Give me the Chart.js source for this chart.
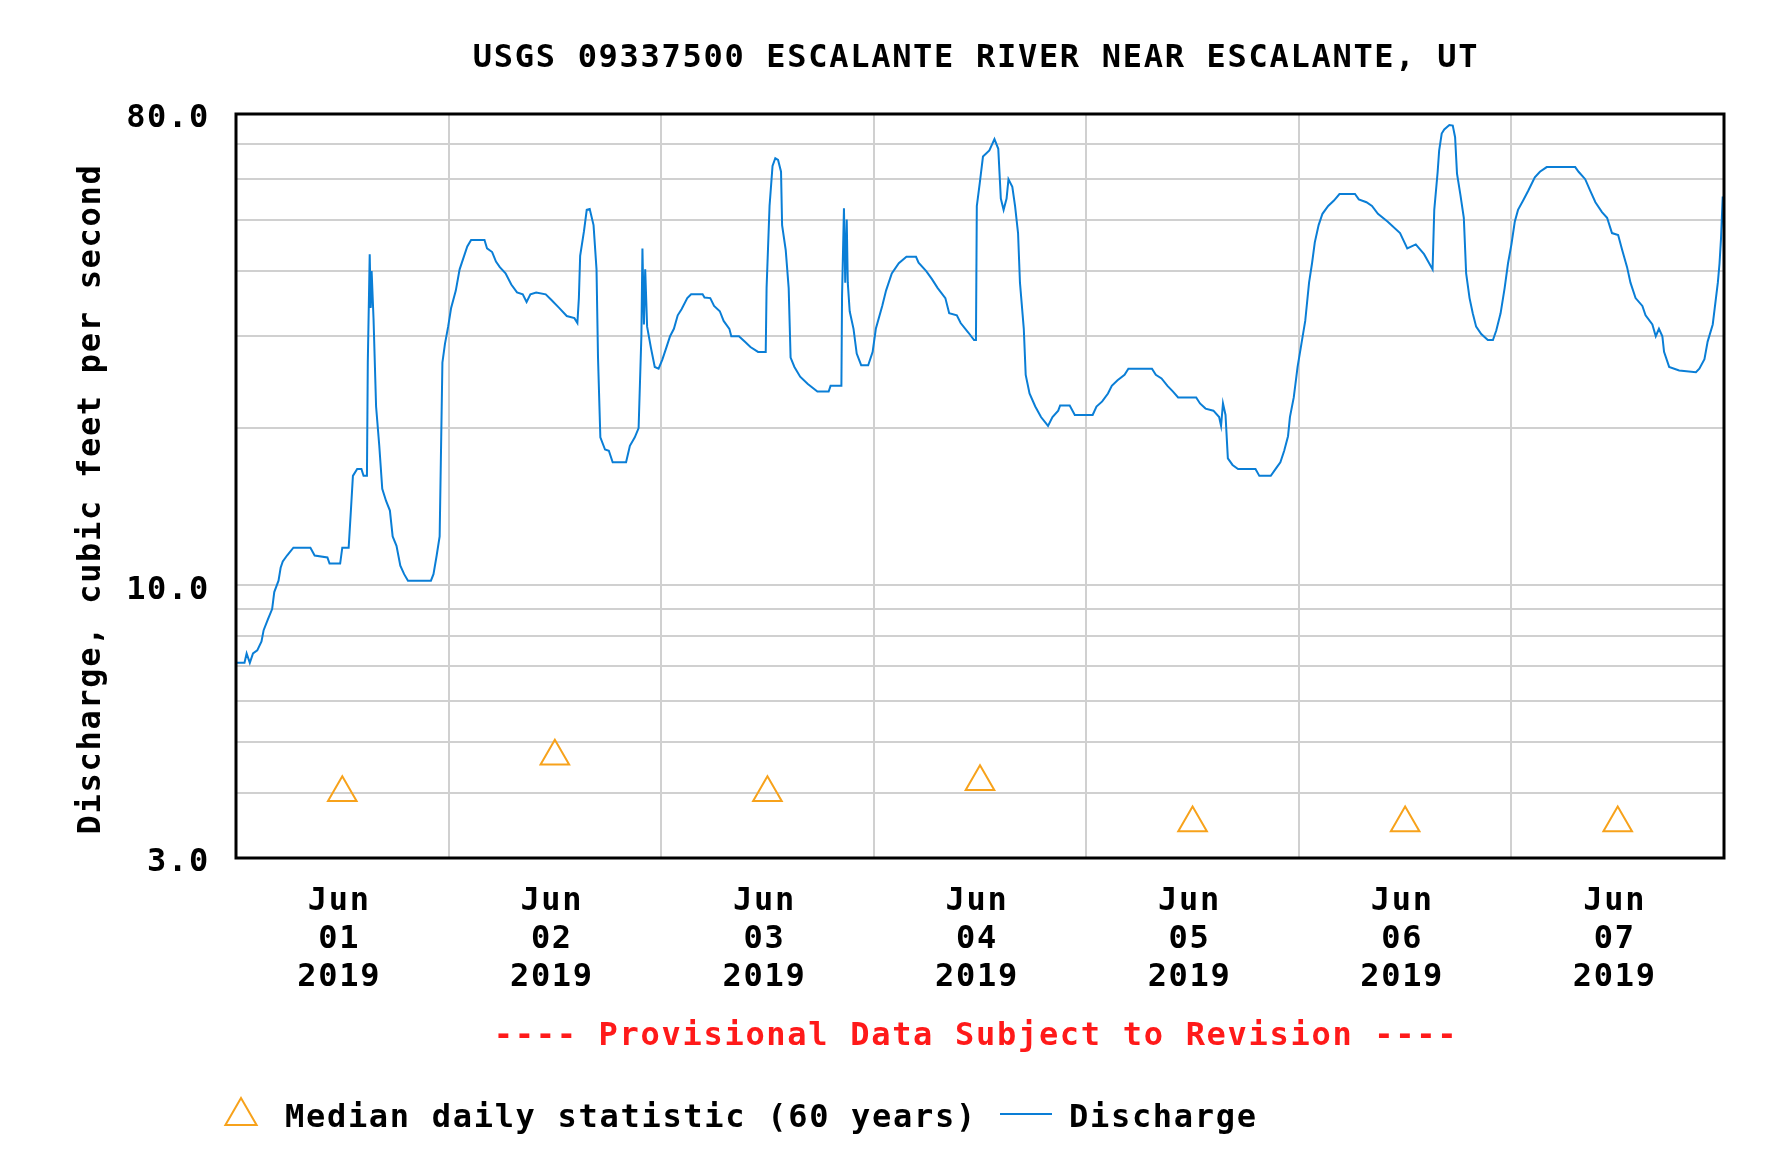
<!DOCTYPE html>
<html>
<head>
<meta charset="utf-8">
<script src="https://cdn.jsdelivr.net/npm/chart.js"></script>
<style>
  html, body { margin: 0; padding: 0; background: #fff; }
  canvas { display: block; }
</style>
</head>
<body>
<canvas id="flowChart" width="1770" height="1166"></canvas>
<script>
// === USGS 09337500 DISCHARGE, JUN 01-07 2019 ===

const TITLE = 'USGS 09337500 ESCALANTE RIVER NEAR ESCALANTE, UT';
const Y_TITLE = 'Discharge, cubic feet per second';
const FOOTER = '---- Provisional Data Subject to Revision ----';
const LEGEND_MEDIAN = 'Median daily statistic (60 years)';
const LEGEND_FLOW = 'Discharge';

// x = days since Jun 01 2019 00:00, y = discharge (cfs)
const flowDays = [
    0.00, 0.04, 0.05, 0.065, 0.08, 0.10, 0.12, 0.13, 0.15, 0.17, 0.18, 0.20, 0.21, 0.22, 0.24, 0.27, 0.35, 0.37, 0.43, 0.44,
    0.49, 0.50, 0.53, 0.54, 0.55, 0.57, 0.59, 0.60, 0.616, 0.62, 0.629, 0.634, 0.638, 0.647, 0.659, 0.674, 0.688, 0.706, 0.724, 0.737,
    0.755, 0.773, 0.791, 0.809, 0.917, 0.929, 0.944, 0.958, 0.971, 0.983, 0.998, 1.012, 1.034, 1.052, 1.070, 1.088, 1.106, 1.169, 1.181, 1.205,
    1.223, 1.241, 1.268, 1.295, 1.322, 1.349, 1.367, 1.385, 1.412, 1.457, 1.484, 1.520, 1.556, 1.592, 1.606, 1.613, 1.619, 1.637, 1.650, 1.664,
    1.682, 1.696, 1.703, 1.714, 1.736, 1.754, 1.772, 1.835, 1.853, 1.876, 1.894, 1.907, 1.912, 1.919, 1.925, 1.934, 1.952, 1.970, 1.988, 2.006,
    2.024, 2.042, 2.060, 2.078, 2.096, 2.123, 2.141, 2.195, 2.204, 2.231, 2.249, 2.276, 2.294, 2.321, 2.330, 2.366, 2.393, 2.420, 2.456, 2.492,
    2.496, 2.510, 2.524, 2.537, 2.550, 2.564, 2.569, 2.586, 2.600, 2.609, 2.627, 2.654, 2.690, 2.735, 2.788, 2.797, 2.848, 2.851, 2.860, 2.866,
    2.873, 2.878, 2.887, 2.905, 2.920, 2.941, 2.974, 2.995, 3.010, 3.040, 3.058, 3.085, 3.118, 3.154, 3.199, 3.211, 3.247, 3.274, 3.301, 3.337,
    3.355, 3.391, 3.409, 3.445, 3.472, 3.481, 3.485, 3.499, 3.514, 3.544, 3.568, 3.586, 3.598, 3.611, 3.625, 3.634, 3.652, 3.665, 3.679, 3.688,
    3.706, 3.715, 3.733, 3.760, 3.787, 3.820, 3.841, 3.868, 3.877, 3.922, 3.946, 4.030, 4.048, 4.075, 4.102, 4.120, 4.147, 4.180, 4.198, 4.309,
    4.327, 4.354, 4.382, 4.408, 4.432, 4.517, 4.535, 4.561, 4.598, 4.625, 4.634, 4.643, 4.655, 4.666, 4.688, 4.714, 4.796, 4.814, 4.868, 4.895,
    4.913, 4.931, 4.949, 4.958, 4.976, 4.994, 5.012, 5.030, 5.048, 5.062, 5.075, 5.093, 5.111, 5.138, 5.165, 5.191, 5.264, 5.282, 5.318, 5.344,
    5.372, 5.417, 5.476, 5.510, 5.550, 5.566, 5.589, 5.613, 5.629, 5.637, 5.653, 5.660, 5.672, 5.684, 5.708, 5.724, 5.735, 5.744, 5.760, 5.776,
    5.787, 5.803, 5.818, 5.834, 5.858, 5.889, 5.913, 5.929, 5.949, 5.968, 5.984, 6.000, 6.016, 6.031, 6.055, 6.079, 6.110, 6.134, 6.166, 6.300,
    6.316, 6.347, 6.371, 6.395, 6.426, 6.450, 6.473, 6.502, 6.521, 6.544, 6.560, 6.584, 6.616, 6.631, 6.663, 6.679, 6.694, 6.710, 6.718, 6.742,
    6.789, 6.868, 6.884, 6.908, 6.923, 6.947, 6.971, 6.979, 6.986, 6.994, 7.000
];
const flowCfs = [
    7.1, 7.1, 7.4, 7.1, 7.4, 7.5, 7.8, 8.2, 8.6, 9.0, 9.7, 10.2, 10.8, 11.1, 11.4, 11.8, 11.8, 11.4, 11.3, 11.0,
    11.0, 11.8, 11.8, 13.8, 16.2, 16.7, 16.7, 16.2, 16.2, 26.7, 43.1, 34.0, 40.0, 32.4, 22.0, 18.5, 15.3, 14.5, 13.9, 12.4,
    11.9, 10.9, 10.5, 10.2, 10.2, 10.5, 11.4, 12.4, 26.7, 29.0, 31.3, 34.0, 36.7, 40.3, 42.4, 44.6, 45.9, 45.9, 44.2, 43.5,
    41.7, 40.7, 39.6, 37.7, 36.4, 36.1, 34.9, 36.1, 36.4, 36.1, 35.2, 34.0, 32.8, 32.5, 31.8, 35.5, 42.8, 47.7, 52.4, 52.6,
    49.0, 40.3, 27.3, 19.2, 18.2, 18.1, 17.2, 17.2, 18.5, 19.2, 20.0, 30.0, 44.2, 31.6, 40.3, 31.3, 28.5, 26.2, 26.0, 27.1,
    28.5, 30.0, 31.0, 32.9, 33.8, 35.5, 36.1, 36.1, 35.6, 35.5, 34.3, 33.5, 32.1, 31.0, 30.0, 30.0, 29.3, 28.6, 28.0, 28.0,
    37.1, 53.3, 63.6, 65.8, 65.3, 62.0, 49.0, 43.9, 37.1, 27.3, 26.2, 25.1, 24.3, 23.5, 23.5, 24.1, 24.1, 35.8, 52.8, 38.0,
    50.2, 38.0, 33.5, 31.0, 27.8, 26.4, 26.4, 28.0, 31.0, 34.3, 36.7, 39.6, 41.4, 42.6, 42.6, 41.5, 40.0, 38.6, 37.1, 35.5,
    33.2, 32.9, 31.8, 30.5, 29.5, 29.5, 53.3, 59.0, 66.3, 68.1, 71.6, 68.6, 55.1, 52.4, 55.1, 60.0, 58.0, 53.3, 47.3, 38.0,
    31.0, 25.3, 23.3, 22.0, 21.0, 20.2, 21.0, 21.6, 22.1, 22.1, 21.2, 21.2, 22.0, 22.5, 23.3, 24.1, 24.7, 25.3, 26.0, 26.0,
    25.3, 24.9, 24.1, 23.5, 22.9, 22.9, 22.3, 21.8, 21.6, 21.0, 20.2, 22.3, 21.2, 17.5, 17.0, 16.7, 16.7, 16.2, 16.2, 16.8,
    17.2, 18.1, 19.3, 21.0, 22.9, 26.2, 29.0, 32.1, 38.0, 41.4, 45.4, 49.0, 51.5, 53.3, 54.6, 56.2, 56.2, 54.9, 54.2, 53.3,
    51.5, 49.8, 47.3, 44.2, 45.0, 44.2, 43.1, 41.4, 40.3, 52.4, 62.0, 68.1, 73.4, 74.7, 76.2, 76.0, 72.2, 61.5, 56.0, 50.6,
    39.6, 35.5, 33.2, 31.3, 30.3, 29.5, 29.5, 30.8, 33.2, 37.1, 41.4, 45.0, 49.8, 52.4, 54.6, 57.0, 60.5, 62.0, 63.3, 63.3,
    62.0, 60.0, 57.0, 54.2, 51.9, 50.6, 47.3, 46.9, 43.9, 40.7, 38.0, 35.5, 34.3, 32.9, 31.6, 30.0, 31.0, 30.0, 28.0, 26.2,
    25.8, 25.6, 26.0, 27.1, 29.3, 31.6, 38.0, 41.4, 46.2, 55.6, 48.0
];

const medianDays = [0.5, 1.5, 2.5, 3.5, 4.5, 5.5, 6.5];
const medianCfs = [4.0, 4.7, 4.0, 4.2, 3.5, 3.5, 3.5];

const dayStarts = [0, 1, 2, 3, 4, 5, 6, 7];
const xTickLabels = [
    ['Jun', '01', '2019'], ['Jun', '02', '2019'], ['Jun', '03', '2019'], ['Jun', '04', '2019'],
    ['Jun', '05', '2019'], ['Jun', '06', '2019'], ['Jun', '07', '2019']
];

const yLabelValues = [3, 10, 80];
const yGridValues = [3, 4, 5, 6, 7, 8, 9, 10, 20, 30, 40, 50, 60, 70, 80];

const FONT = "bold 32px 'DejaVu Sans Mono'";
const TICK_FONT = { family: "'DejaVu Sans Mono'", size: 32, weight: 'bold', lineHeight: 1.2 };
const BLUE = '#0a7ed6';
const ORANGE = '#f7a21b';
const GRID = '#d0d0d0';

function drawTriangle(ctx, x, y, r) {
    if (Chart.helpers && Chart.helpers.drawPoint) {
        Chart.helpers.drawPoint(ctx, { pointStyle: 'triangle', radius: r, borderWidth: 2, rotation: 0 }, x, y);
        return;
    }
    ctx.beginPath();
    ctx.moveTo(x, y - r);
    ctx.lineTo(x + r * 0.866, y + r / 2);
    ctx.lineTo(x - r * 0.866, y + r / 2);
    ctx.closePath();
    ctx.fill();
    ctx.stroke();
}

// frame, titles, footer and legend round the plot
const usgsDecor = {
    id: 'usgsDecor',
    beforeDraw(chart) { chart.ctx.letterSpacing = '1.7px'; },
    afterDraw(chart) {
        const { ctx, chartArea: a } = chart;
        const cx = (a.left + a.right) / 2 - 4;
        ctx.save();
        ctx.letterSpacing = '1.7px';
        ctx.lineWidth = 3;
        ctx.strokeStyle = '#000';
        ctx.strokeRect(a.left, a.top, a.right - a.left, a.bottom - a.top);

        ctx.font = FONT;
        ctx.textBaseline = 'alphabetic';
        ctx.textAlign = 'center';
        ctx.fillStyle = '#000';
        ctx.fillText(TITLE, cx, a.top - 47);
        ctx.fillStyle = '#ff1a1a';
        ctx.fillText(FOOTER, cx, a.bottom + 187);

        // legend
        const ly = a.bottom + 269;
        ctx.fillStyle = '#fff';
        ctx.strokeStyle = ORANGE;
        ctx.lineWidth = 2;
        drawTriangle(ctx, 241, ly - 11, 18);
        ctx.textAlign = 'left';
        ctx.fillStyle = '#000';
        ctx.fillText(LEGEND_MEDIAN, 285, ly);
        ctx.strokeStyle = BLUE;
        ctx.beginPath();
        ctx.moveTo(1000, ly - 13);
        ctx.lineTo(1052, ly - 13);
        ctx.stroke();
        ctx.fillText(LEGEND_FLOW, 1069, ly);

        // y axis title
        ctx.translate(100, (a.top + a.bottom) / 2 + 13);
        ctx.rotate(-Math.PI / 2);
        ctx.textAlign = 'center';
        ctx.fillText(Y_TITLE, 0, 0);
        ctx.restore();
    }
};

function renderFlowChart() {
    const ctx = document.getElementById('flowChart').getContext('2d');
    const flowPoints = flowDays.map((d, i) => ({ x: d, y: flowCfs[i] }));
    const medianPoints = medianDays.map((d, i) => ({ x: d, y: medianCfs[i] }));

    new Chart(ctx, {
        type: 'scatter',
        data: {
            datasets: [
                { label: LEGEND_FLOW, data: flowPoints, showLine: true, borderColor: BLUE, borderWidth: 2, pointRadius: 0, tension: 0, order: 2 },
                { label: LEGEND_MEDIAN, data: medianPoints, showLine: false, pointStyle: 'triangle', pointRadius: 16.5, borderColor: ORANGE, backgroundColor: 'rgba(0,0,0,0)', pointBorderWidth: 2, order: 1 }
            ]
        },
        options: {
            responsive: false, animation: false,
            layout: { padding: { top: 114, right: 46, bottom: 168, left: 120 } },
            plugins: { legend: { display: false }, tooltip: { enabled: false } },
            scales: {
                x: {
                    type: 'linear', min: 0, max: 7,
                    afterBuildTicks: s => { s.ticks = [...dayStarts, ...medianDays].sort((p, q) => p - q).map(v => ({ value: v })); },
                    afterFit: s => { s.height = 140; },
                    border: { display: false },
                    grid: { drawTicks: false, lineWidth: 2, color: c => (dayStarts.includes(c.tick && c.tick.value) ? GRID : 'rgba(0,0,0,0)') },
                    ticks: {
                        autoSkip: false, maxRotation: 0, padding: 24, labelOffset: -3, color: '#000', font: TICK_FONT,
                        callback: v => { const i = medianDays.indexOf(v); return i >= 0 ? xTickLabels[i] : ''; }
                    }
                },
                y: {
                    type: 'logarithmic', min: 3, max: 80,
                    afterBuildTicks: s => { s.ticks = yGridValues.map(v => ({ value: v })); },
                    afterFit: s => { s.width = 116; },
                    border: { display: false },
                    grid: { drawTicks: false, lineWidth: 2, color: GRID },
                    ticks: {
                        autoSkip: false, padding: 26, labelOffset: 5, color: '#000', font: TICK_FONT,
                        callback: v => (yLabelValues.includes(v) ? v.toFixed(1) : '')
                    }
                }
            }
        },
        plugins: [usgsDecor]
    });
}

renderFlowChart();
</script>
</body>
</html>
